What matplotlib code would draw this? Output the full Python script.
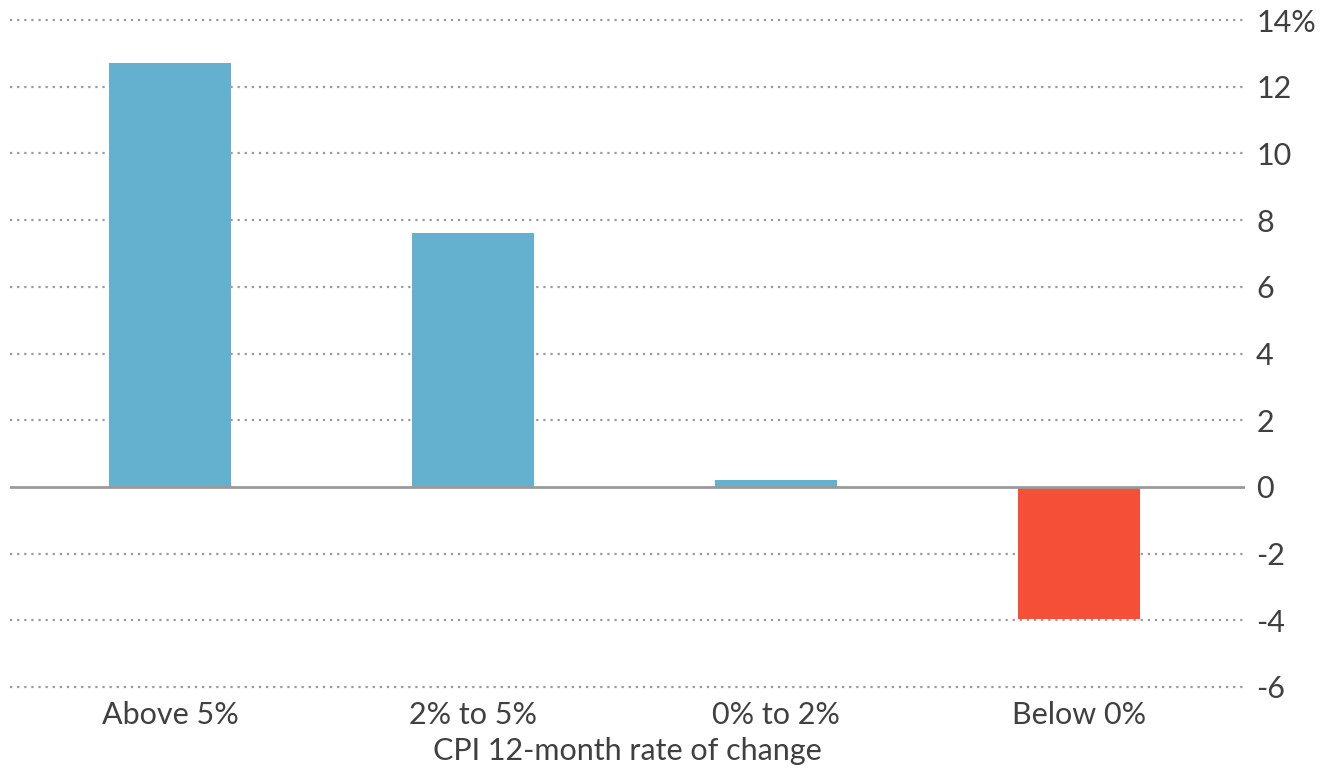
import matplotlib.pyplot as plt
import matplotlib.ticker as mticker

# Data
categories = ["Above 5%", "2% to 5%", "0% to 2%", "Below 0%"]
values = [12.7, 7.6, 0.2, -3.95]
y_ticks = [-6, -4, -2, 0, 2, 4, 6, 8, 10, 12, 14]
x_title = "CPI 12-month rate of change"

plt.rcParams['font.family'] = ['Lato', 'DejaVu Sans']
text_color = "#404040"
blue = "#63b0cf"
red = "#f64f37"

fig = plt.figure(figsize=(13.33, 7.70), dpi=100)
ax = fig.add_axes([0.0075, 0.1078, 0.9265, 0.8662])

colors = [blue if v >= 0 else red for v in values]
ax.bar(range(len(categories)), values, width=0.4, color=colors, zorder=2)

ax.set_xlim(-0.528, 3.548)
ax.set_ylim(-6, 14)

# Dotted horizontal gridlines, solid zero line
for t in y_ticks:
    if t == 0:
        ax.axhline(0, color="#9a9a9a", lw=2, zorder=3)
    else:
        ax.axhline(t, color="#9a9a9a", lw=1.6, ls=(0, (1, 2.2)), zorder=1, clip_on=False)

for s in ax.spines.values():
    s.set_visible(False)

ax.yaxis.tick_right()
ax.set_yticks(y_ticks)
ax.yaxis.set_major_formatter(mticker.FuncFormatter(
    lambda v, p: f"{int(v)}%" if v == 14 else f"{int(v)}".replace("\u2212", "-")))
ax.tick_params(axis="y", length=0, pad=8, labelsize=22, labelcolor=text_color)

ax.set_xticks(range(len(categories)))
ax.set_xticklabels(categories)
ax.tick_params(axis="x", length=0, pad=10, labelsize=22, labelcolor=text_color)

ax.set_xlabel(x_title, fontsize=22, color=text_color, labelpad=6)

fig.savefig("out.png", dpi=100, facecolor="white")
